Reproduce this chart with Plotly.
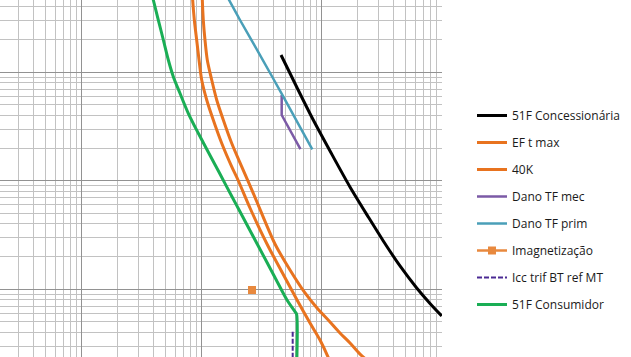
import plotly.graph_objects as go

# ---- data (current in A, time in s) ----
conc_I = [458, 619, 851, 1173, 1721, 2445, 3261, 4493, 6190, 7990, 10000]
conc_t = [14.43, 7.32, 3.63, 1.883, 0.877, 0.464, 0.279, 0.164, 0.1028, 0.0740, 0.0568]

eft_I = [83.0, 84.1, 86.8, 90.8, 95.0, 100, 110.1, 124.9, 146.8, 177.8, 200.7, 252.6, 350, 476, 623, 799, 968, 1128, 1242]
eft_t = [63.8, 46.4, 30.34, 19.85, 12.98, 8.49, 5.556, 3.63, 2.216, 1.349, 1.017, 0.5615, 0.2616, 0.1384, 0.0797, 0.0489, 0.0341, 0.0238, 0.018]

k40_I = [100.6, 101.2, 103.1, 106.5, 111.3, 121.2, 133.4, 151.4, 177.8, 215.4, 269.2, 408, 544.5, 726, 914, 1173, 1420, 1721, 2085, 2431]
k40_t = [63.8, 46.4, 30.34, 19.85, 12.98, 8.49, 5.556, 3.63, 2.216, 1.349, 0.767, 0.2616, 0.1507, 0.0925, 0.0672, 0.0500, 0.0396, 0.0320, 0.0253, 0.0218]

mec_I = [464, 464, 665]
mec_t = [6.18, 4.04, 1.96]

prim_I = [147.6, 168.9, 208.5, 306.1, 478.6, 835]
prim_t = [61.1, 46.4, 30.34, 14.43, 5.96, 1.951]

mag_I = [262.5]
mag_t = [0.0985]

icc_I = [573, 573]
icc_t = [0.0407, 0.01]

cons_I = [36.7, 39.5, 43.5, 47.9, 52.7, 58.0, 65.9, 77.3, 93.7, 114.8, 141.0, 178.9, 205.0, 290.1, 405.9, 514, 599, 617, 617]
cons_t = [63.8, 46.4, 30.34, 19.85, 12.98, 9.11, 6.405, 4.19, 2.741, 1.793, 1.172, 0.7136, 0.538, 0.2616, 0.1299, 0.0797, 0.0622, 0.0592, 0.018]

names = ["51F Concessionária", "EF t max", "40K", "Dano TF mec", "Dano TF prim",
         "Imagnetização", "Icc trif BT ref MT", "51F Consumidor"]

fig = go.Figure()
series = [
    (conc_I, conc_t, names[0], "#000000", 3, "solid", "lines", "spline"),
    (eft_I, eft_t, names[1], "#E8731F", 3, "solid", "lines", "spline"),
    (k40_I, k40_t, names[2], "#E8731F", 3, "solid", "lines", "spline"),
    (mec_I, mec_t, names[3], "#7B5AA6", 2.5, "solid", "lines", "linear"),
    (prim_I, prim_t, names[4], "#4A9FB8", 2.5, "solid", "lines", "spline"),
    (mag_I, mag_t, names[5], "#E8893E", 2.5, "solid", "lines+markers", "linear"),
    (icc_I, icc_t, names[6], "#4B2A93", 2, "5px,2px", "lines", "linear"),
    (cons_I, cons_t, names[7], "#1AAE55", 3, "solid", "lines", "spline"),
]
for i, (xs, ys, nm, col, w, dash, mode, shape) in enumerate(series):
    fig.add_trace(go.Scatter(
        x=xs, y=ys, name=nm, mode=mode, legendgroup=f"g{i}",
        line=dict(color=col, width=w, dash=dash, shape=shape, smoothing=0.8),
        marker=dict(symbol="square", size=8, color=col),
    ))

axis_common = dict(
    type="log", dtick=1, showticklabels=False, ticks="",
    showgrid=True, gridcolor="#929292", gridwidth=1,
    minor=dict(dtick="D1", showgrid=True, gridcolor="#c2c2c2", gridwidth=1, ticks=""),
    zeroline=False, showline=False,
)
fig.update_xaxes(range=[0.319, 4.0025], **axis_common)
fig.update_yaxes(range=[-1.624, 1.6664], **axis_common)

fig.update_layout(
    width=631, height=357,
    margin=dict(l=0, r=189, t=0, b=0, pad=0),
    paper_bgcolor="white", plot_bgcolor="white",
    showlegend=True,
    legend=dict(
        xref="container", yref="container",
        x=472 / 631, y=1 - 101 / 357, xanchor="left", yanchor="top",
        font=dict(family="Open Sans, Noto Sans, Arial", size=12, color="#1a1a1a"),
        bgcolor="rgba(0,0,0,0)", borderwidth=0,
        tracegroupgap=8, itemwidth=30, maxheight=357,
    ),
)

fig.write_html("out.html")
